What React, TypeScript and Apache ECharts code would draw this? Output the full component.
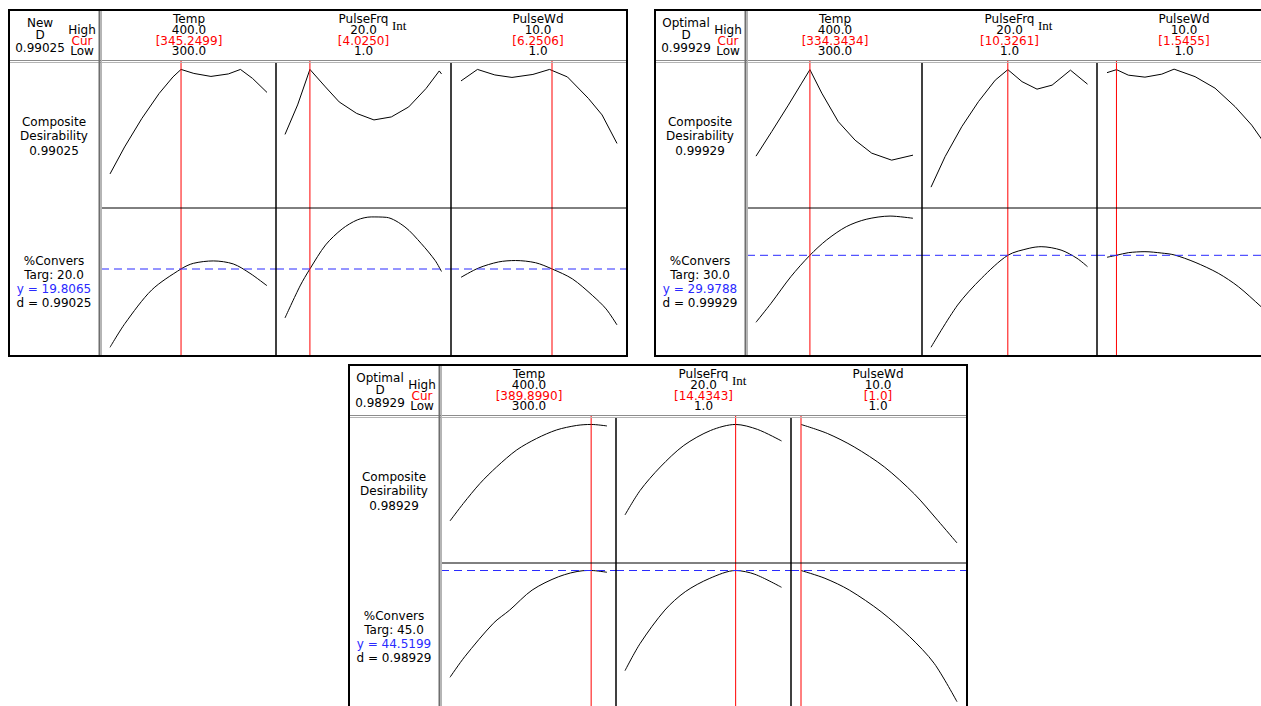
import React, { useEffect, useRef } from "react";
import * as echarts from "echarts";

// ---------- factors ----------
const factorNames = ["Temp", "PulseFrq", "PulseWd"];
const factorLow = [300, 1, 1];
const factorHigh = [400, 20, 10];
const highLabels = ["400.0", "20.0", "10.0"];
const lowLabels = ["300.0", "1.0", "1.0"];

// ---------- panel summary values ----------
const panelTitles = ["New", "Optimal", "Optimal"];
const compositeD = [0.99025, 0.99929, 0.98929];
const targets = [20.0, 30.0, 45.0];
const predictedY = [19.8065, 29.9788, 44.5199];
const curSettings1 = [345.2499, 4.025, 6.2506];
const curSettings2 = [334.3434, 10.3261, 1.5455];
const curSettings3 = [389.899, 14.4343, 1.0];
const curLabels1 = ["[345.2499]", "[4.0250]", "[6.2506]"];
const curLabels2 = ["[334.3434]", "[10.3261]", "[1.5455]"];
const curLabels3 = ["[389.8990]", "[14.4343]", "[1.0]"];

// ---------- panel 1 curves ----------
const desTemp1 = [[300, 0.781], [309.3, 0.835], [320.3, 0.892], [331.3, 0.942], [340.1, 0.975], [345.25, 0.99], [353.4, 0.982], [364.3, 0.976], [375.4, 0.981], [383.1, 0.99], [390.8, 0.972], [400, 0.944]];
const desFrq1 = [[1, 0.86], [2.53, 0.919], [4.025, 0.99], [5.91, 0.955], [7.58, 0.925], [9.7, 0.902], [11.8, 0.889], [13.91, 0.895], [16.02, 0.915], [18.13, 0.952], [19.73, 0.987], [20, 0.981]];
const desWd1 = [[1, 0.967], [1.95, 0.99], [2.95, 0.979], [3.94, 0.974], [5.15, 0.98], [6.11, 0.99], [7.14, 0.975], [8.35, 0.932], [9.14, 0.899], [10, 0.842]];
const respTemp1 = [[300, 15.89], [309.6, 17.09], [326.6, 18.76], [345.25, 19.81], [353.1, 20.09], [365.8, 20.21], [378.5, 20.06], [389.2, 19.59], [400, 18.97]];
const respFrq1 = [[1, 17.36], [2.83, 18.96], [4.025, 19.81], [5.93, 21.01], [7.94, 21.81], [9.77, 22.26], [11.47, 22.41], [13.3, 22.39], [15.56, 21.91], [17.56, 21.07], [19.23, 20.23], [20, 19.68]];
const respWd1 = [[1, 19.39], [2.0, 19.85], [3.17, 20.16], [4.14, 20.23], [5.3, 20.12], [6.25, 19.81], [7.43, 19.31], [8.6, 18.47], [9.37, 17.81], [10, 17.01]];
const desAxis1 = [0.71285, 1.00685];
const respAxis1 = [15.4565, 22.8565];

// ---------- panel 2 curves ----------
const desTemp2 = [[300, 0.826], [310, 0.875], [320.6, 0.928], [329.1, 0.972], [334.34, 0.999], [341.9, 0.952], [352.4, 0.895], [363.1, 0.858], [373.7, 0.832], [386.4, 0.818], [400, 0.828]];
const desFrq2 = [[1, 0.764], [2.71, 0.825], [4.74, 0.885], [6.76, 0.935], [8.8, 0.978], [10.33, 0.999], [12.05, 0.975], [13.87, 0.96], [15.7, 0.968], [17.93, 0.998], [20, 0.97]];
const desWd2 = [[1, 0.993], [1.55, 0.999], [2.23, 0.988], [3.19, 0.984], [4.16, 0.99], [4.87, 1.0], [6.08, 0.985], [7.23, 0.962], [8.39, 0.925], [9.35, 0.888], [10, 0.856]];
const respTemp2 = [[300, 26.63], [309.6, 27.58], [322.2, 28.91], [334.34, 29.98], [344.9, 30.74], [357.5, 31.41], [370.2, 31.78], [385.4, 31.94], [400, 31.83]];
const respFrq2 = [[1, 25.38], [4.23, 27.49], [7.13, 28.83], [10.33, 29.98], [12.92, 30.33], [14.37, 30.41], [16.79, 30.24], [18.72, 29.83], [20, 29.41]];
const respWd2 = [[1, 29.88], [1.55, 29.98], [2.23, 30.11], [3.19, 30.16], [4.16, 30.09], [4.87, 30.0], [6.08, 29.63], [7.42, 29.08], [8.58, 28.41], [9.89, 27.41], [10, 27.32]];
const desAxis2 = [0.72229, 1.01629];
const respAxis2 = [24.9438, 32.3438];

// ---------- panel 3 curves ----------
const desTemp3 = [[300, 0.796], [308.5, 0.831], [319.1, 0.871], [329.7, 0.904], [342.5, 0.938], [355.2, 0.961], [367.9, 0.978], [380.7, 0.987], [389.9, 0.989], [400, 0.986]];
const desFrq3 = [[1, 0.808], [2.84, 0.857], [5.29, 0.904], [8.14, 0.947], [11.4, 0.977], [14.43, 0.989], [17.1, 0.979], [20, 0.956]];
const desWd3 = [[1, 0.989], [2.52, 0.971], [4.07, 0.944], [5.81, 0.904], [7.54, 0.85], [8.89, 0.797], [10, 0.752]];
const respTemp3 = [[300, 39.18], [309.4, 40.21], [327.6, 41.88], [338.0, 42.54], [352.3, 43.54], [369.2, 44.21], [384.7, 44.51], [389.9, 44.52], [400, 44.43]];
const respFrq3 = [[1, 39.51], [2.85, 40.88], [5.84, 42.54], [8.32, 43.46], [11.3, 44.13], [14.43, 44.52], [16.77, 44.33], [20, 43.68]];
const respWd3 = [[1, 44.52], [2.38, 44.13], [3.79, 43.54], [5.62, 42.46], [7.27, 41.21], [8.68, 39.88], [10, 37.96]];
const desAxis3 = [0.71189, 1.00589];
const respAxis3 = [37.4949, 44.8949];

const panels = [
  { title: panelTitles[0], d: compositeD[0], target: targets[0], y: predictedY[0], cur: curSettings1, curLabels: curLabels1, des: [desTemp1, desFrq1, desWd1], resp: [respTemp1, respFrq1, respWd1], desAxis: desAxis1, respAxis: respAxis1, smoothDes: false },
  { title: panelTitles[1], d: compositeD[1], target: targets[1], y: predictedY[1], cur: curSettings2, curLabels: curLabels2, des: [desTemp2, desFrq2, desWd2], resp: [respTemp2, respFrq2, respWd2], desAxis: desAxis2, respAxis: respAxis2, smoothDes: false },
  { title: panelTitles[2], d: compositeD[2], target: targets[2], y: predictedY[2], cur: curSettings3, curLabels: curLabels3, des: [desTemp3, desFrq3, desWd3], resp: [respTemp3, respFrq3, respWd3], desAxis: desAxis3, respAxis: respAxis3, smoothDes: true },
];

// ---------- layout (pixels, panel-relative) ----------
const PANEL_OFFSETS = [[0, 0], [646, 0], [340, 355]];
const FRAME_L = 9, FRAME_T = 10, FRAME_R = 627, FRAME_B = 356;
const HEADER_B = 61, LEFT_COL = 100, ROW_DIV = 208;
const CELLS = [[101, 276], [276, 451], [451, 627]];
const CURVES = [[110, 267], [285, 441.5], [461, 617]];
const ROW_TOP = [HEADER_B, ROW_DIV];
const ROW_H = [ROW_DIV - HEADER_B, FRAME_B - ROW_DIV];
const COL_CENTER = [189, 363.5, 538];

const FONT_FAMILY = '"DejaVu Sans", Verdana, sans-serif';
const FONT = "12px " + FONT_FAMILY;
const RED = "#ff0000";
const BLUE = "#2a2aff";

// a stacked block of lines as ONE text element (rich text for coloured lines)
function block(x: number, y: number, lines: string[], lineHeight: number) {
  return {
    type: "text",
    x,
    y,
    silent: true,
    z: 10,
    style: {
      text: lines.join("\n"),
      fill: "#000",
      font: FONT,
      fontSize: 12,
      fontFamily: FONT_FAMILY,
      lineHeight,
      align: "center",
      verticalAlign: "middle",
      textAlign: "center",
      textVerticalAlign: "middle",
      rich: {
        r: { fill: RED, color: RED, fontSize: 12, fontFamily: FONT_FAMILY, lineHeight },
        b: { fill: BLUE, color: BLUE, fontSize: 12, fontFamily: FONT_FAMILY, lineHeight },
      },
    },
  };
}
function txt(x: number, y: number, text: string, font: string) {
  return {
    type: "text",
    x,
    y,
    silent: true,
    z: 10,
    style: { text, fill: "#000", font, align: "left", verticalAlign: "middle", textAlign: "left", textVerticalAlign: "middle" },
  };
}
function ln(x1: number, y1: number, x2: number, y2: number, stroke: string, lineWidth: number) {
  return { type: "line", silent: true, z: 5, shape: { x1, y1, x2, y2 }, style: { stroke, lineWidth } };
}

function lineSeries(idx: number, data: any[], color: string, dash: any, smooth: any, z: number) {
  return {
    type: "line",
    xAxisIndex: idx,
    yAxisIndex: idx,
    data,
    color,
    symbol: "none",
    showSymbol: false,
    smooth,
    silent: true,
    z,
    lineStyle: { color, width: 1, type: dash },
    itemStyle: { color },
    emphasis: { disabled: true },
  };
}

function buildOption() {
  const grid: any[] = [];
  const xAxis: any[] = [];
  const yAxis: any[] = [];
  const series: any[] = [];
  const graphic: any[] = [];

  panels.forEach((p, pi) => {
    const [ox, oy] = PANEL_OFFSETS[pi];
    for (let r = 0; r < 2; r++) {
      for (let c = 0; c < 3; c++) {
        const idx = grid.length;
        const [cellL, cellR] = CELLS[c];
        const [curL, curR] = CURVES[c];
        const per = (factorHigh[c] - factorLow[c]) / (curR - curL);
        const xMin = factorLow[c] - (curL - cellL) * per;
        const xMax = factorHigh[c] + (cellR - curR) * per;
        const range = r === 0 ? p.desAxis : p.respAxis;
        grid.push({
          left: ox + cellL,
          top: oy + ROW_TOP[r],
          width: cellR - cellL,
          height: ROW_H[r],
          show: false,
          containLabel: false,
          outerBoundsMode: "none",
        });
        xAxis.push({ type: "value", gridIndex: idx, min: xMin, max: xMax, show: false });
        yAxis.push({ type: "value", gridIndex: idx, min: range[0], max: range[1], show: false });
        const smooth = r === 1 || p.smoothDes ? 0.3 : false;
        series.push(lineSeries(idx, r === 0 ? p.des[c] : p.resp[c], "#000000", "solid", smooth, 3));
        // current factor setting (vertical red line through the row)
        series.push(lineSeries(idx, [[p.cur[c], range[0]], [p.cur[c], range[1]]], RED, "solid", false, 4));
        // predicted response (horizontal dashed blue line across the cell)
        if (r === 1) series.push(lineSeries(idx, [[xMin, p.y], [xMax, p.y]], BLUE, [8, 5], false, 4));
      }
    }

    // frame and dividers
    graphic.push({
      type: "rect",
      silent: true,
      z: 6,
      shape: { x: ox + FRAME_L, y: oy + FRAME_T, width: FRAME_R - FRAME_L, height: FRAME_B - FRAME_T },
      style: { fill: "none", stroke: "#000", lineWidth: 2 },
    });
    graphic.push(ln(ox + FRAME_L, oy + HEADER_B - 0.5, ox + FRAME_R, oy + HEADER_B - 0.5, "#8c8c8c", 1));
    graphic.push(ln(ox + FRAME_L, oy + HEADER_B + 1.5, ox + FRAME_R, oy + HEADER_B + 1.5, "#b4b4b4", 1));
    graphic.push(ln(ox + LEFT_COL - 0.5, oy + FRAME_T, ox + LEFT_COL - 0.5, oy + FRAME_B, "#6e6e6e", 2));
    graphic.push(ln(ox + LEFT_COL + 1.5, oy + FRAME_T, ox + LEFT_COL + 1.5, oy + FRAME_B, "#b4b4b4", 1));
    graphic.push(ln(ox + CELLS[1][0], oy + HEADER_B + 2, ox + CELLS[1][0], oy + FRAME_B, "#000", 1.5));
    graphic.push(ln(ox + CELLS[2][0], oy + HEADER_B + 2, ox + CELLS[2][0], oy + FRAME_B, "#000", 1.5));
    graphic.push(ln(ox + LEFT_COL + 2, oy + ROW_DIV, ox + FRAME_R, oy + ROW_DIV, "#000", 1));

    // header left cell
    graphic.push(block(ox + 40, oy + 35.3, [p.title, "D", p.d.toFixed(5)], 12.25));
    graphic.push(block(ox + 82, oy + 40.5, ["High", "{r|Cur}", "Low"], 10.5));

    // factor headers
    for (let c = 0; c < 3; c++) {
      const cx = ox + COL_CENTER[c];
      graphic.push(block(cx, oy + 35.3, [factorNames[c], highLabels[c], "{r|" + p.curLabels[c] + "}", lowLabels[c]], 10.8));
    }
    graphic.push(txt(ox + 392, oy + 25.5, "Int", '13px "Liberation Serif", "Times New Roman", serif'));

    // row labels
    graphic.push(block(ox + 54, oy + 136, ["Composite", "Desirability", p.d.toFixed(5)], 14.5));
    graphic.push(
      block(ox + 54, oy + 282, ["%Convers", "Targ: " + p.target.toFixed(1), "{b|y = " + p.y.toFixed(4) + "}", "d = " + p.d.toFixed(5)], 14.33)
    );
  });

  return {
    animation: false,
    backgroundColor: "#ffffff",
    grid,
    xAxis,
    yAxis,
    series,
    graphic: { elements: graphic },
  };
}

export default function App() {
  const ref = useRef<HTMLDivElement>(null);
  useEffect(() => {
    if (!ref.current) return;
    const chart = echarts.init(ref.current, undefined, { renderer: "svg" });
    chart.setOption(buildOption() as any);
    return () => chart.dispose();
  }, []);
  return (
    <div
      ref={ref}
      style={{ position: "fixed", left: 0, top: 0, width: 1261, height: 706, overflow: "hidden", background: "#fff" }}
    />
  );
}
